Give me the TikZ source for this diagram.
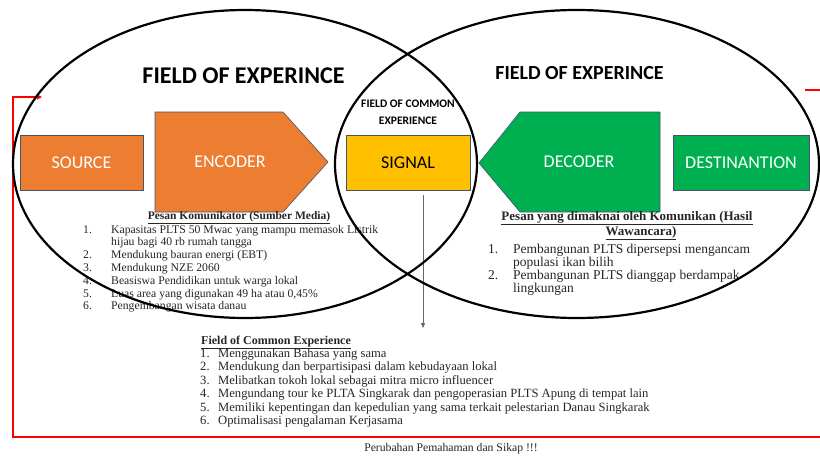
\documentclass[tikz,border=0pt]{standalone}
\usepackage{fontspec}
\setsansfont{Carlito}
\newfontfamily\pala{Liberation Serif}
\usepackage{tikz}
\usetikzlibrary{arrows.meta}
\definecolor{oranye}{HTML}{ED7D31}
\definecolor{kuning}{HTML}{FFC000}
\definecolor{hijau}{HTML}{00B050}
\definecolor{garis}{HTML}{44546A}
\definecolor{teks}{HTML}{262626}

\begin{document}
\begin{tikzpicture}[x=1pt,y=-1pt,line cap=round]
	\tikzstyle{kotak}=[draw=garis,line width=.6pt,text=white,inner sep=0pt,font=\sffamily\fontsize{18}{20}\selectfont];
	\tikzstyle{judul}=[inner sep=0pt,font=\sffamily\bfseries];
	\tikzstyle{daftar}=[anchor=base west,inner sep=0pt,text=teks];
	\useasboundingbox[fill=white] (0,0) rectangle (820,458);
	%% boxes
	\node[kotak,fill=oranye,minimum width=123,minimum height=55] (source) at (81.5,162.5) {SOURCE};
	\filldraw[draw=garis,fill=oranye,line width=.6pt] (155,112) -- (283,112) -- (328,162) -- (283,212) -- (155,212) -- cycle;
	\node[kotak,draw=none] (encoder) at (230,162) {ENCODER};
	\node[kotak,fill=kuning,text=black,minimum width=124,minimum height=55] (signal) at (408,162.5) {SIGNAL};
	\filldraw[draw=garis,fill=hijau,line width=.6pt] (479,163) -- (520,112) -- (660,112) -- (660,212) -- (520,212) -- cycle;
	\node[kotak,draw=none] (decoder) at (579,162) {DECODER};
	\node[kotak,fill=hijau,minimum width=136,minimum height=55] (destination) at (741,162.5) {DESTINANTION};
	%% titles
	\node[judul,font=\sffamily\bfseries\fontsize{24}{28}\selectfont] (fieldL) at (243.5,76) {FIELD OF EXPERINCE};
	\node[judul,font=\sffamily\bfseries\fontsize{20}{24}\selectfont] (fieldR) at (579.5,73.5) {FIELD OF EXPERINCE};
	\node[judul,align=center,font=\sffamily\bfseries\fontsize{11.5}{17}\selectfont] (fieldC) at (408,112) {FIELD OF COMMON\\EXPERIENCE};
	%% message of the communicator
	\node[anchor=base,inner sep=0pt,text=teks,font=\pala\bfseries\fontsize{11.5}{12.8}\selectfont] (pesanL) at (239,219) {\underline{Pesan Komunikator (Sumber Media)}};
	\node[daftar,font=\pala\fontsize{11.7}{12.8}\selectfont] (listL) at (83,233) {\begin{tabular}[t]{@{}p{28pt}@{}l@{}}
		1. & Kapasitas PLTS 50 Mwac yang mampu memasok Listrik\\
		   & hijau bagi 40 rb rumah tangga\\
		2. & Mendukung bauran energi (EBT)\\
		3. & Mendukung NZE 2060\\
		4. & Beasiswa Pendidikan untuk warga lokal\\
		5. & Luas area yang digunakan 49 ha atau 0,45\%\\
		6. & Pengembangan wisata danau
	\end{tabular}};
	%% message as understood by the receiver
	\node[anchor=base,inner sep=0pt,text=teks,font=\pala\bfseries\fontsize{13}{14}\selectfont] (pesanR) at (627,220) {\underline{Pesan yang dimaknai oleh Komunikan (Hasil}};
	\node[anchor=base,inner sep=0pt,text=teks,font=\pala\bfseries\fontsize{13}{14}\selectfont] (pesanR2) at (641,235) {\underline{Wawancara)}};
	\node[daftar,font=\pala\fontsize{13.5}{12.4}\selectfont] (listR) at (488,253) {\begin{tabular}[t]{@{}p{25pt}@{}l@{}}
		1. & Pembangunan PLTS dipersepsi mengancam\\
		   & populasi ikan bilih\\
		2. & Pembangunan PLTS dianggap berdampak\\
		   & lingkungan
	\end{tabular}};
	%% common experience
	\node[daftar,font=\pala\bfseries\fontsize{12}{13.5}\selectfont] (pesanC) at (201,344) {\underline{Field of Common Experience}};
	\node[daftar,font=\pala\fontsize{12.6}{13.5}\selectfont] (listC) at (200,357) {\begin{tabular}[t]{@{}p{18pt}@{}l@{}}
		1. & Menggunakan Bahasa yang sama\\
		2. & Mendukung dan berpartisipasi dalam kebudayaan lokal\\
		3. & Melibatkan tokoh lokal sebagai mitra micro influencer\\
		4. & Mengundang tour ke PLTA Singkarak dan pengoperasian PLTS Apung di tempat lain\\
		5. & Memiliki kepentingan dan kepedulian yang sama terkait pelestarian Danau Singkarak\\
		6. & Optimalisasi pengalaman Kerjasama
	\end{tabular}};
	\node[anchor=base,inner sep=0pt,text=teks,font=\pala\fontsize{11.7}{14}\selectfont] (hasil) at (451,451) {Perubahan Pemahaman dan Sikap !!!};
	%% signal to common field
	\coordinate (cfe) at (423,328);
	\draw[gray!80!black,line width=.7pt,-{Triangle[length=5pt,width=4pt]}] ([yshift=-5pt]signal.south -| cfe) -- (cfe);
	%% feedback loop
	\coordinate (fbR) at (805,90);
	\coordinate (fbL) at (42,97);
	\draw[red,line width=1.4pt,line cap=butt,-{Triangle[length=5pt,width=5pt]}] (fbR) -- (835,90) -- (835,437) -- (13,437) -- (13,97) -- (fbL);
	%% fields of experience
	\draw[line width=2.2pt] (245,164) ellipse [x radius=232,y radius=154];
	\draw[line width=2.2pt] (577,164) ellipse [x radius=242,y radius=154];
\end{tikzpicture}
\end{document}
